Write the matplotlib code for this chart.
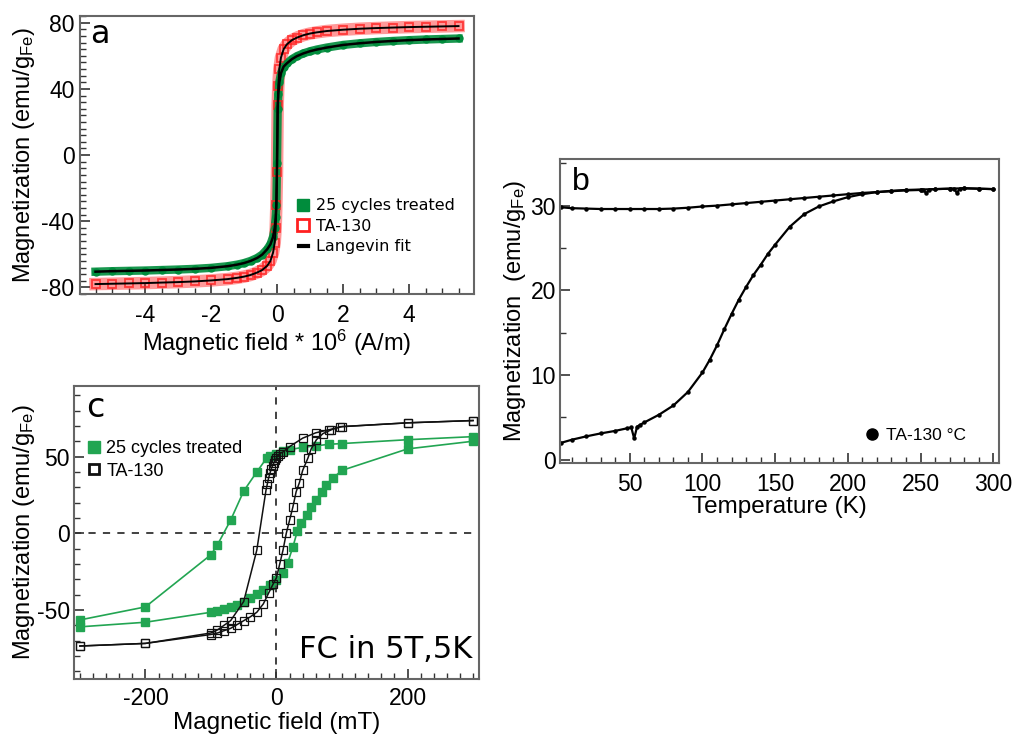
"""Magnetization panels: M(H) loops, ZFC/FC and low-field loops."""

import matplotlib
matplotlib.use("Agg")
import matplotlib.pyplot as plt
from matplotlib.lines import Line2D
from matplotlib.ticker import MultipleLocator

plt.rcParams["font.family"] = ["Liberation Sans", "DejaVu Sans"]
plt.rcParams["mathtext.fontset"] = "custom"
plt.rcParams["mathtext.rm"] = "Liberation Sans"
plt.rcParams["mathtext.it"] = "Liberation Sans:italic"
plt.rcParams["axes.unicode_minus"] = False

# ---- panel a: M(H) at room temperature (field in 10^6 A/m) ----
h_a = [-5.5, -5.0, -4.5, -4.0, -3.5, -3.0, -2.5, -2.0, -1.5, -1.2, -1.0, -0.8,
       -0.6, -0.45, -0.3, -0.2, -0.12, -0.07, -0.04, -0.02, 0.0, 0.02, 0.04,
       0.07, 0.12, 0.2, 0.3, 0.45, 0.6, 0.8, 1.0, 1.2, 1.5, 2.0, 2.5, 3.0,
       3.5, 4.0, 4.5, 5.0, 5.5]
m_cycles_a = [-70.5, -70.2, -70.0, -69.8, -69.5, -69.2, -68.8, -68.2, -67.2,
              -66.2, -65.3, -64.0, -62.2, -60.2, -57.0, -54.0, -49.5, -44.0,
              -37.5, -30.0, -5.0, 28.0, 37.0, 44.0, 49.5, 53.5, 55.5, 58.0,
              59.8, 61.5, 62.8, 63.8, 65.0, 66.6, 67.6, 68.4, 69.0, 69.5, 69.9,
              70.2, 70.5]
m_ta130_a = [-78.0, -77.8, -77.6, -77.4, -77.1, -76.8, -76.4, -75.8, -75.0,
             -74.2, -73.5, -72.5, -71.0, -69.5, -67.0, -64.0, -59.0, -53.0,
             -44.0, -30.0, -10.0, 30.0, 42.0, 52.0, 59.0, 64.0, 67.0, 69.5,
             71.0, 72.5, 73.5, 74.2, 75.0, 75.8, 76.4, 76.8, 77.1, 77.4, 77.6,
             77.8, 78.0]

# ---- panel b: ZFC / FC, TA-130 ----
t_zfc = [3, 10, 20, 30, 40, 48, 51, 53, 55, 57, 60, 70, 80, 90, 100, 105, 110,
         115, 120, 125, 130, 135, 140, 145, 150, 160, 170, 180, 190, 200, 210,
         220, 230, 240, 250, 260, 270, 280, 290, 300]
m_zfc = [2.0, 2.35, 2.75, 3.1, 3.4, 3.7, 3.8, 2.5, 3.9, 4.1, 4.4, 5.3, 6.4,
         8.0, 10.3, 11.8, 13.5, 15.4, 17.2, 18.9, 20.4, 21.8, 23.0, 24.3, 25.4,
         27.5, 29.0, 29.9, 30.5, 31.0, 31.35, 31.6, 31.75, 31.85, 31.9, 31.95,
         32.0, 32.05, 32.0, 31.95]
t_fc = [3, 10, 20, 30, 40, 50, 60, 70, 80, 90, 100, 110, 120, 130, 140, 150,
        160, 170, 180, 190, 200, 210, 220, 230, 240, 250, 252, 254, 256, 260,
        270, 273, 275, 277, 280, 290, 300]
m_fc = [29.8, 29.7, 29.65, 29.6, 29.6, 29.6, 29.6, 29.6, 29.65, 29.75, 29.9,
        30.0, 30.15, 30.3, 30.45, 30.6, 30.75, 30.9, 31.05, 31.2, 31.35, 31.5,
        31.6, 31.7, 31.8, 31.85, 31.85, 31.45, 31.9, 31.95, 32.0, 32.0, 31.5,
        32.0, 32.05, 32.0, 31.95]

# ---- panel c: loops at 5 K after FC in 5 T (field in mT) ----
h_cyc_dn = [300, 200, 100, 80, 60, 40, 20, 10, 0, -10, -15, -30, -50, -70, -90,
            -100, -200, -300]
m_cyc_dn = [63, 61, 58.5, 58, 57, 56, 54.5, 53.5, 52, 50.5, 49, 40, 27.5, 8.5,
            -7.5, -14, -48, -56.5]
h_cyc_up = [-300, -200, -100, -90, -80, -70, -60, -50, -40, -30, -20, -10, 0,
            10, 17, 25, 32, 38, 46, 53, 61, 69, 76, 86, 100, 200, 300]
m_cyc_up = [-61, -58, -51.5, -50.5, -49.5, -48, -46.5, -44.5, -42, -39.5, -37,
            -34, -30.5, -26, -19.5, -9, 1.5, 6.5, 12, 17, 22, 27, 31.5, 36, 41,
            55, 60]
h_ta_dn = [300, 200, 100, 80, 60, 40, 20, 10, 5, 2, 0, -2, -4, -6, -8, -10,
           -12, -14, -16, -30, -50, -70, -80, -90, -100, -200, -300]
m_ta_dn = [73.5, 72, 69.5, 67.5, 65.5, 62, 56.5, 53, 52, 50.5, 49, 47.5, 46,
           44, 42, 39, 36, 32, 28, -11, -44.5, -57, -60, -63, -65, -71.8, -73.5]
h_ta_up = [-300, -200, -100, -90, -80, -70, -60, -50, -40, -30, -20, -12, -5,
           0, 5, 10, 15, 20, 25, 30, 35, 40, 48, 53, 61, 71, 84, 97, 200, 300]
m_ta_up = [-73.5, -71.8, -66, -65, -63.5, -62, -59.5, -57, -54.5, -51.5, -46,
           -39, -33, -29, -20, -11, 0, 8.5, 17, 27, 33, 41, 49, 55, 61, 65,
           67.5, 69.5, 72, 73.5]

GREEN_A = "#008c3c"
GREEN_C = "#22a552"
RED = "#ff2020"
SPINE = "#666666"
LAB = 17
TICK = 16.5


def style_axes(ax, xpad, ypad):
    for s in ax.spines.values():
        s.set_color(SPINE)
        s.set_linewidth(1.5)
    ax.tick_params(which="both", direction="in", color="#333333",
                   labelsize=TICK, top=False, right=False)
    ax.tick_params(which="major", length=7, width=1.2)
    ax.tick_params(which="minor", length=4, width=1.0)
    ax.tick_params(axis="x", pad=xpad)
    ax.tick_params(axis="y", pad=ypad)


fig = plt.figure(figsize=(10.19, 7.35), dpi=100)

# ---------------- panel a ----------------
ax_a = fig.add_axes([0.0785, 0.600, 0.3867, 0.378])
ax_a.plot(h_a, m_ta130_a, color=RED, lw=9, alpha=0.45, zorder=2)
ax_a.plot(h_a, m_ta130_a, ls="none", marker="s", ms=6, mfc="none",
          mec=RED, mew=1.3, alpha=0.8, zorder=3)
ax_a.plot(h_a, m_cycles_a, color=GREEN_A, lw=6, alpha=0.9, zorder=2)
ax_a.plot(h_a, m_cycles_a, ls="none", marker="o", ms=5, color=GREEN_A, zorder=3)
ax_a.plot(h_a, m_ta130_a, color="black", lw=1.4, zorder=4)
ax_a.plot(h_a, m_cycles_a, color="black", lw=1.8, zorder=4)
ax_a.set_xlim(-5.97, 5.97)
ax_a.set_ylim(-84, 84)
ax_a.xaxis.set_major_locator(MultipleLocator(2))
ax_a.xaxis.set_minor_locator(MultipleLocator(0.5))
ax_a.yaxis.set_major_locator(MultipleLocator(40))
ax_a.yaxis.set_minor_locator(MultipleLocator(4))
style_axes(ax_a, 7, 4)
ax_a.set_xlabel(r"Magnetic field * 10$^{6}$ (A/m)", fontsize=LAB, labelpad=1)
ax_a.set_ylabel(r"Magnetization (emu/g$_{\mathrm{Fe}}$)", fontsize=LAB,
                labelpad=3)
ax_a.text(0.025, 0.903, "a", transform=ax_a.transAxes, fontsize=23,
          family="DejaVu Sans")
handles_a = [
    Line2D([], [], ls="none", marker="s", ms=9, color=GREEN_A),
    Line2D([], [], ls="none", marker="s", ms=8, mfc="none", mec=RED, mew=2),
    Line2D([], [], color="black", lw=3),
]
ax_a.legend(handles_a, ["25 cycles treated", "TA-130", "Langevin fit"],
            loc="upper left", bbox_to_anchor=(0.555, 0.345), frameon=False,
            borderpad=0, borderaxespad=0, handlelength=0.6,
            handletextpad=0.5, labelspacing=0.35,
            prop={"family": "DejaVu Sans", "size": 11.5})

# ---------------- panel b ----------------
ax_b = fig.add_axes([0.5496, 0.370, 0.4308, 0.4136])
ax_b.plot(t_zfc, m_zfc, color="black", lw=1.6, marker="o", ms=2.2,
          label="TA-130 °C")
ax_b.plot(t_fc, m_fc, color="black", lw=1.6, marker="o", ms=2.2)
ax_b.set_xlim(2, 304)
ax_b.set_ylim(-0.4, 35.5)
ax_b.xaxis.set_major_locator(MultipleLocator(50))
ax_b.xaxis.set_minor_locator(MultipleLocator(10))
ax_b.yaxis.set_major_locator(MultipleLocator(10))
ax_b.yaxis.set_minor_locator(MultipleLocator(5))
style_axes(ax_b, 7, 3)
ax_b.set_xlabel("Temperature (K)", fontsize=LAB + 0.5, labelpad=0)
ax_b.set_ylabel(r"Magnetization  (emu/g$_{\mathrm{Fe}}$)", fontsize=LAB,
                labelpad=2)
ax_b.text(0.027, 0.898, "b", transform=ax_b.transAxes, fontsize=23)
handles_b = [Line2D([], [], ls="none", marker="o", ms=8, color="black")]
ax_b.legend(handles_b, ["TA-130 °C"], loc="center left",
            bbox_to_anchor=(0.695, 0.092), frameon=False, borderpad=0,
            borderaxespad=0, handlelength=0.8, handletextpad=0.4,
            prop={"size": 12.5})

# ---------------- panel c ----------------
ax_c = fig.add_axes([0.0726, 0.0762, 0.3974, 0.3986])
ax_c.axvline(0, color="#333333", ls=(0, (4, 4)), lw=1.3, zorder=1)
ax_c.axhline(0, color="#333333", ls=(0, (4, 4)), lw=1.3, zorder=1)
ax_c.plot(h_cyc_dn, m_cyc_dn, color=GREEN_C, lw=1.2, marker="s", ms=6,
          zorder=3)
ax_c.plot(h_cyc_up, m_cyc_up, color=GREEN_C, lw=1.2, marker="s", ms=6,
          zorder=3)
ax_c.plot(h_ta_dn, m_ta_dn, color="#111111", lw=1.1, marker="s", ms=5.5,
          mfc="none", mew=0.9, zorder=4)
ax_c.plot(h_ta_up, m_ta_up, color="#111111", lw=1.1, marker="s", ms=5.5,
          mfc="none", mew=0.9, zorder=4)
ax_c.set_xlim(-309, 309)
ax_c.set_ylim(-95, 96)
ax_c.xaxis.set_major_locator(MultipleLocator(200))
ax_c.xaxis.set_minor_locator(MultipleLocator(20))
ax_c.yaxis.set_major_locator(MultipleLocator(50))
ax_c.yaxis.set_minor_locator(MultipleLocator(10))
style_axes(ax_c, 6, 3)
ax_c.set_xlabel("Magnetic field (mT)", fontsize=LAB + 0.5, labelpad=1)
ax_c.set_ylabel(r"Magnetization (emu/g$_{\mathrm{Fe}}$)", fontsize=LAB,
                labelpad=0)
ax_c.text(0.031, 0.894, "c", transform=ax_c.transAxes, fontsize=24,
          family="DejaVu Sans")
ax_c.text(0.983, 0.072, "FC in 5T,5K", transform=ax_c.transAxes,
          fontsize=22, family="DejaVu Sans", ha="right", va="baseline")
handles_c = [
    Line2D([], [], ls="none", marker="s", ms=9, color=GREEN_C),
    Line2D([], [], ls="none", marker="s", ms=7, mfc="none", mec="#111111",
           mew=2),
]
ax_c.legend(handles_c, ["25 cycles treated", "TA-130"], loc="upper left",
            bbox_to_anchor=(0.035, 0.815), frameon=False, borderpad=0,
            borderaxespad=0, handlelength=0.6, handletextpad=0.4,
            labelspacing=0.3, prop={"size": 13})

fig.savefig("out.png", dpi=100)
plt.close(fig)
print("Saved: out.png")
